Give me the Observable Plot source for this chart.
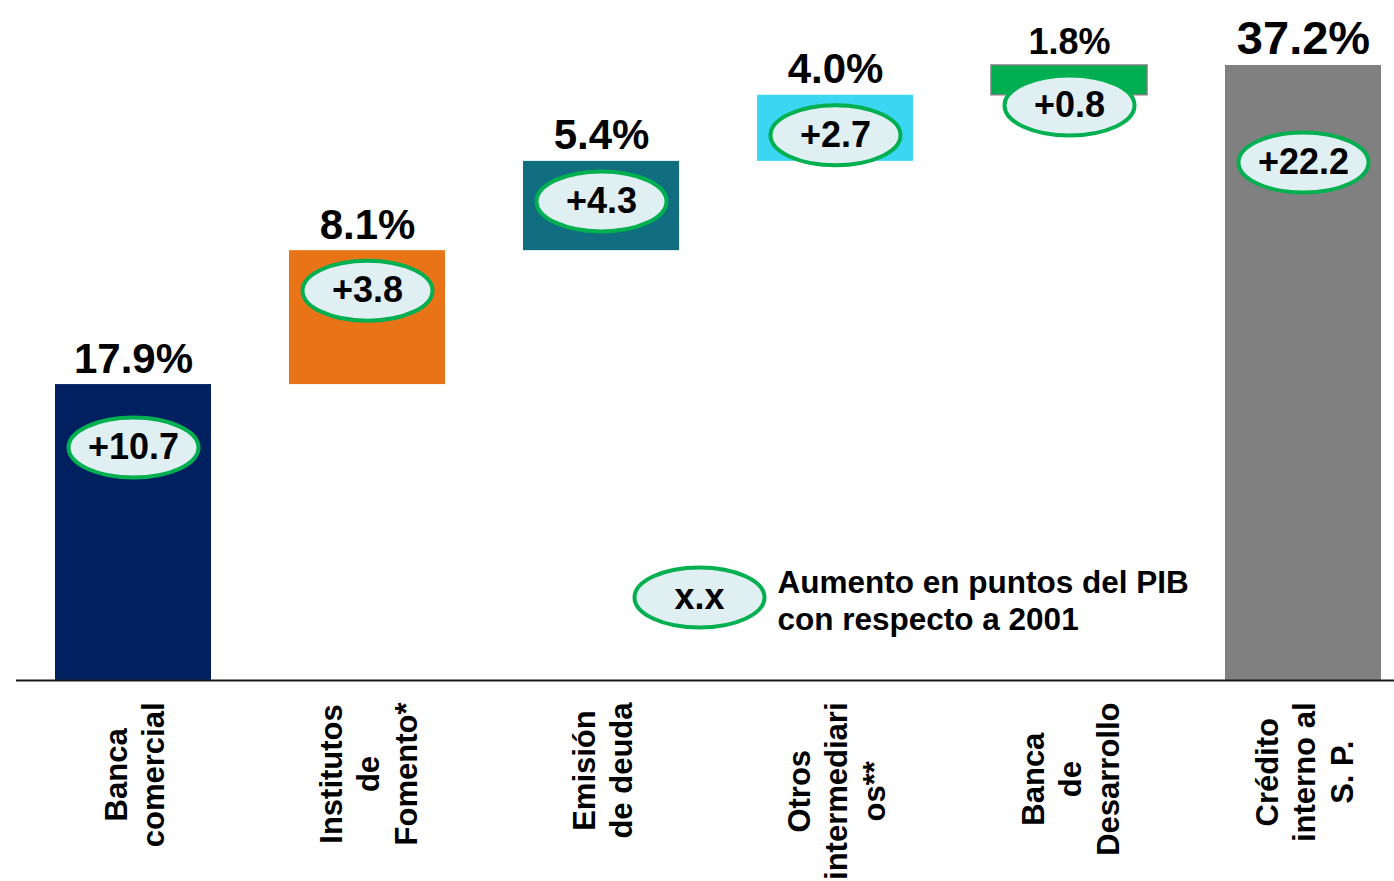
<!DOCTYPE html>
<html>
<head>
<meta charset="utf-8">
<script src="https://cdn.jsdelivr.net/npm/d3@7"></script>
<script src="https://cdn.jsdelivr.net/npm/@observablehq/plot@0.6"></script>
<style>
  html, body { margin: 0; padding: 0; background: #ffffff; overflow: hidden; }
  #chart svg { display: block; }
</style>
</head>
<body>
<div id="chart"></div>
<script>
// ---- data ----
const categories = [
  "Banca comercial",
  "Institutos de Fomento*",
  "Emisión de deuda",
  "Otros intermediarios**",
  "Banca de Desarrollo",
  "Crédito interno al S. P."
];
const tickLabels = [
  "Banca\ncomercial",
  "Institutos\nde\nFomento*",
  "Emisión\nde deuda",
  "Otros\nintermediari\nos**",
  "Banca\nde\nDesarrollo",
  "Crédito\ninterno al\nS. P."
];
const shares = [17.9, 8.1, 5.4, 4.0, 1.8, 37.2];       // % del PIB
const increases = [10.7, 3.8, 4.3, 2.7, 0.8, 22.2];    // puntos del PIB vs 2001
const legendSymbolText = "x.x";
const legendText = "Aumento en puntos del PIB\ncon respecto a 2001";

// ---- styling ----
const palette = ["#002060", "#E97317", "#116E80", "#3AD7F2", "#00B050", "#808080"];
const FONT = "'Liberation Sans', Arial, Helvetica, sans-serif";
const W = 1394, H = 881;
const yTopPx = 65, yBasePx = 680;
const yMax = 37.2;
const pxPerUnit = (yBasePx - yTopPx) / yMax;
const n = categories.length;

// text measurement for centering rotated tick labels
const ctx = document.createElement("canvas").getContext("2d");
ctx.font = `bold 31px ${FONT}`;
const maxLineWidth = s => d3.max(s.split("\n"), l => ctx.measureText(l).width);

// ---- build waterfall rows ----
let acc = 0;
const rows = categories.map((cat, i) => {
  const isTotal = i === n - 1;
  const y1 = isTotal ? 0 : acc;
  const y2 = isTotal ? shares[i] : acc + shares[i];
  if (!isTotal) acc = y2;
  const drop = i === 0 ? 63 : isTotal ? 97 : 40;
  const tickGap = 22 + maxLineWidth(tickLabels[i]) / 2;
  return {
    cat, i, y1, y2,
    label: d3.format(".1f")(shares[i]) + "%",
    badge: "+" + d3.format(".1f")(increases[i]),
    badgeY: y2 - drop / pxPerUnit,
    tick: tickLabels[i],
    tickY: -tickGap / pxPerUnit,
    isTotal
  };
});

// ellipse symbol
const ellipse = {
  draw(c) {
    const rx = 65, ry = 30, k = 0.5523, kx = rx * k, ky = ry * k;
    c.moveTo(rx, 0);
    c.bezierCurveTo(rx, ky, kx, ry, 0, ry);
    c.bezierCurveTo(-kx, ry, -rx, ky, -rx, 0);
    c.bezierCurveTo(-rx, -ky, -kx, -ry, 0, -ry);
    c.bezierCurveTo(kx, -ry, rx, -ky, rx, 0);
    c.closePath();
  }
};

const chart = Plot.plot({
  width: W,
  height: H,
  marginLeft: 16,
  marginRight: 0,
  marginTop: 0,
  marginBottom: H - yBasePx,
  style: { fontFamily: FONT, background: "#ffffff", color: "#000000" },
  x: { domain: categories, range: [16, 1420], paddingInner: 1 / 3, paddingOuter: 1 / 6, axis: null },
  y: { domain: [0, yMax], range: [yBasePx, yTopPx], axis: null },
  color: { domain: categories, range: palette },
  marks: [
    Plot.barY(rows, { x: "cat", y1: "y1", y2: "y2", fill: "cat" }),
    Plot.barY(rows.filter(d => d.i === 4), { x: "cat", y1: "y1", y2: "y2", fill: "none", stroke: "#7f7f7f", strokeWidth: 1.5 }),
    Plot.ruleY([0], { stroke: "#1a1a1a", strokeWidth: 2 }),
    // value labels above bars
    Plot.text(rows, {
      x: "cat", y: "y2", text: "label",
      lineAnchor: "bottom", dy: -12,
      fontSize: d => d.isTotal ? 47 : d.y2 - d.y1 < 2 ? 36 : 42,
      fontWeight: "bold", fill: "#000000"
    }),
    // badges
    Plot.dot(rows, { x: "cat", y: "badgeY", symbol: ellipse, fill: "#E0EFF2", stroke: "#00B050", strokeWidth: 4 }),
    Plot.text(rows, { x: "cat", y: "badgeY", text: "badge", fontSize: 36, fontWeight: "bold", fill: "#000000" }),
    // category labels (rotated)
    Plot.text(rows, {
      x: "cat", y: "tickY", text: "tick",
      rotate: -90, textAnchor: "middle", lineAnchor: "middle", lineHeight: 1.2,
      fontSize: 31, fontWeight: "bold", fill: "#000000"
    }),
    // legend
    Plot.dot([legendSymbolText], { frameAnchor: "top-left", dx: 683, dy: 597, symbol: ellipse, fill: "#E0EFF2", stroke: "#00B050", strokeWidth: 4 }),
    Plot.text([legendSymbolText], {
      frameAnchor: "top-left", dx: 683, dy: 597, text: d => d,
      textAnchor: "middle", lineAnchor: "middle",
      fontSize: 36, fontWeight: "bold", fill: "#000000"
    }),
    Plot.text([legendText], {
      frameAnchor: "top-left", dx: 761, dy: 566, text: d => d,
      textAnchor: "start", lineAnchor: "top", lineHeight: 1.17,
      fontSize: 31.5, fontWeight: "bold", fill: "#000000"
    })
  ]
});

document.getElementById("chart").appendChild(chart);
</script>
</body>
</html>
